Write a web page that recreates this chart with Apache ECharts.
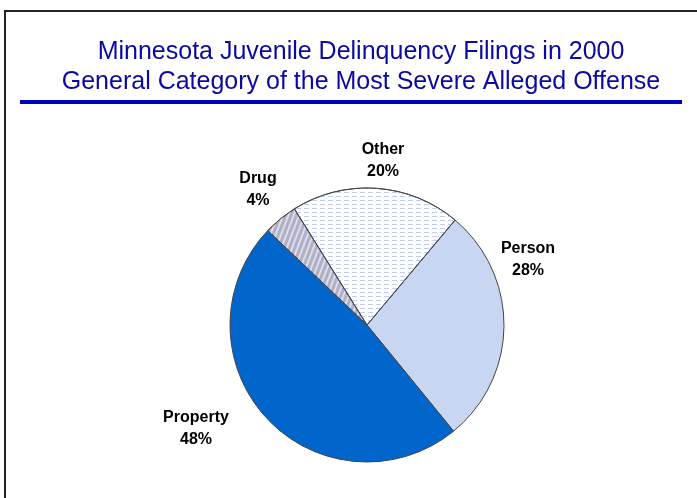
<!DOCTYPE html>
<html>
<head>
<meta charset="utf-8">
<script src="https://cdn.jsdelivr.net/npm/echarts@6/dist/echarts.min.js"></script>
<style>
html,body{margin:0;padding:0;background:#fff;}
#main{width:697px;height:498px;}
</style>
</head>
<body>
<div id="main"></div>
<script>
// 数据
var categories = ['Person', 'Property', 'Drug', 'Other'];
var values = [28, 48, 4, 20];
var titleLines = ['Minnesota Juvenile Delinquency Filings in 2000', 'General Category of the Most Severe Alleged Offense'];

var chart = echarts.init(document.getElementById('main'));

// 每块的样式
var styles = {
    Person: {color: '#c8d6f2'},
    Property: {color: '#0066cc'},
    Drug: {
        color: '#b0b0c4',
        decal: {symbol: 'rect', symbolSize: 1, dashArrayX: [1, 0], dashArrayY: [2, 3], rotation: -Math.PI / 2.6, color: '#dcdcee'}
    },
    Other: {
        color: '#ffffff',
        decal: {symbol: 'rect', symbolSize: 1, dashArrayX: [[5, 3]], dashArrayY: [1, 3], rotation: 0, color: '#c0ccf0'}
    }
};
// 标签位置
var labelPos = {
    Person: [528, 260],
    Property: [196, 429],
    Drug: [258, 190],
    Other: [383, 161]
};

var pieData = [];
categories.forEach(function (name, i) {
    pieData.push({name: name, value: values[i], itemStyle: styles[name]});
});

var option = {
    animation: false,
    title: {
        text: titleLines.join('\n'),
        left: 356,
        top: 32,
        textAlign: 'center',
        textStyle: {
            color: '#0a0aa0',
            fontFamily: 'Liberation Sans, Arial',
            fontSize: 25,
            fontWeight: 'normal',
            lineHeight: 30
        }
    },
    graphic: [
        {
            type: 'polyline',
            shape: {points: [[5, 498], [5, 11], [697, 11]]},
            style: {stroke: '#222', lineWidth: 2, fill: null}
        },
        {
            type: 'rect',
            shape: {x: 20, y: 100, width: 662, height: 4},
            style: {fill: '#0000c0'}
        }
    ],
    series: [
        {
            type: 'pie',
            center: [367, 325],
            radius: 137,
            startAngle: 50,
            clockwise: true,
            data: pieData,
            itemStyle: {borderColor: '#444', borderWidth: 1},
            label: {
                show: true,
                position: 'outside',
                formatter: '{b}\n{d}%',
                color: '#000',
                fontFamily: 'Liberation Sans, Arial',
                fontSize: 16,
                fontWeight: 'bold',
                lineHeight: 22,
                align: 'center'
            },
            labelLine: {show: false},
            labelLayout: function (params) {
                var p = labelPos[categories[params.dataIndex]];
                return {x: p[0], y: p[1], align: 'center', verticalAlign: 'middle'};
            }
        }
    ]
};
chart.setOption(option);
</script>
</body>
</html>
